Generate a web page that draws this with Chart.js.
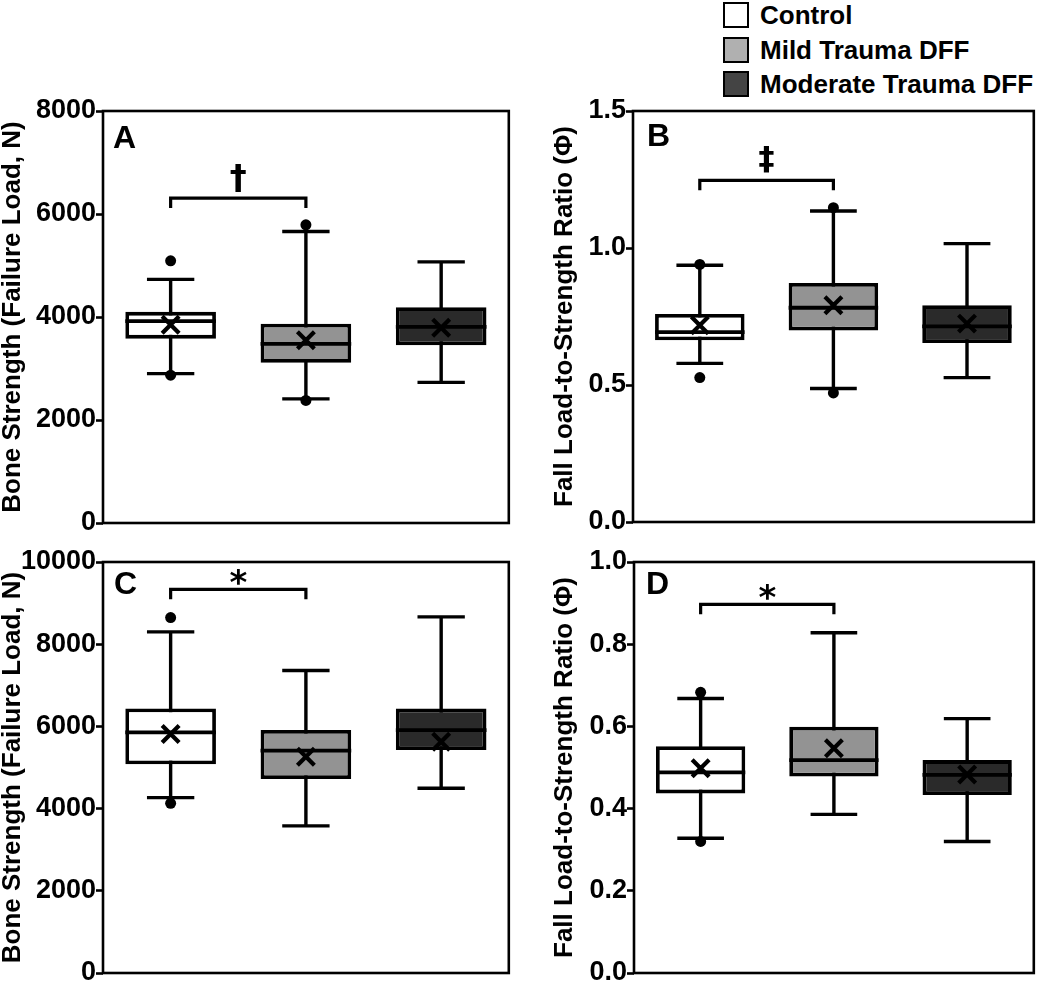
<!DOCTYPE html>
<html>
<head>
<meta charset="utf-8">
<script src="https://cdn.jsdelivr.net/npm/chart.js@4.4.0/dist/chart.umd.min.js"></script>
<style>
  html, body { margin: 0; padding: 0; width: 1050px; height: 983px; overflow: hidden; background: #fff; }
  body { font-family: "Liberation Sans", Arial, sans-serif; color: #000; }
  canvas { position: absolute; }
  #legend { position: absolute; left: 723px; top: 2px; }
  .item { position: relative; height: 34.5px; }
  .sw { position: absolute; left: 0; top: 0; width: 22px; height: 22px; border: 2.5px solid #000; }
  .lbl { position: absolute; left: 37px; top: -2px; font-weight: bold; font-size: 26px; line-height: 31px; white-space: nowrap; }
</style>
</head>
<body>

<div id="legend"></div>
<canvas id="panelA" width="525" height="470" style="left:0;top:90px"></canvas>
<canvas id="panelB" width="530" height="470" style="left:520px;top:90px"></canvas>
<canvas id="panelC" width="525" height="470" style="left:0;top:540px"></canvas>
<canvas id="panelD" width="530" height="470" style="left:520px;top:540px"></canvas>

<script>
// === Data ===
const groups = ['Control', 'Mild Trauma DFF', 'Moderate Trauma DFF'];

// A - bone strength, first set
const aQ1 = [3580, 3110, 3450];
const aQ3 = [4100, 3870, 4190];
const aMedian = [3920, 3480, 3810];
const aMean = [3850, 3550, 3790];
const aLow = [2900, 2410, 2730];
const aHigh = [4730, 5660, 5070];
const aOutliers = [[5090, 2870], [5790, 2380], []];

// B - fall load-to-strength ratio, first set
const bQ1 = [0.663, 0.699, 0.653];
const bQ3 = [0.759, 0.872, 0.791];
const bMedian = [0.693, 0.782, 0.714];
const bMean = [0.718, 0.791, 0.724];
const bLow = [0.579, 0.487, 0.527];
const bHigh = [0.937, 1.135, 1.016];
const bOutliers = [[0.940, 0.527], [1.147, 0.471], []];

// C - bone strength, second set
const cQ1 = [5077, 4721, 5425];
const cQ3 = [6437, 5911, 6437];
const cMedian = [5854, 5409, 5911];
const cMean = [5814, 5263, 5627];
const cLow = [4267, 3579, 4494];
const cHigh = [8300, 7360, 8664];
const cOutliers = [[8648, 4129], [], []];

// D - fall load-to-strength ratio, second set
const dQ1 = [0.437, 0.478, 0.433];
const dQ3 = [0.552, 0.599, 0.518];
const dMedian = [0.488, 0.518, 0.482];
const dMean = [0.498, 0.547, 0.483];
const dLow = [0.328, 0.386, 0.320];
const dHigh = [0.668, 0.828, 0.619];
const dOutliers = [[0.683, 0.320], [], []];

// Axis ticks
const strengthTicksA = [0, 2000, 4000, 6000, 8000];
const ratioTicksB = [0.0, 0.5, 1.0, 1.5];
const strengthTicksC = [0, 2000, 4000, 6000, 8000, 10000];
const ratioTicksD = [0.0, 0.2, 0.4, 0.6, 0.8, 1.0];

// Significance brackets: Control vs Mild
const bracketLevels = [6310, 1.247, 9336, 0.897];
const bracketMarks = ['†', '‡', '*', '*'];

// === Styles ===
const boxFills = ['#ffffff', '#939393', '#2a2a2a'];
const legendFills = ['#ffffff', '#b0b0b0', '#444444'];
const FONT = '"Liberation Sans", Arial, sans-serif';
const MARK_FONT = '"DejaVu Sans", "Liberation Sans", sans-serif';

// === Legend ===
const legendEl = document.getElementById('legend');
groups.forEach((g, i) => {
  const item = document.createElement('div');
  item.className = 'item';
  item.innerHTML = `<div class="sw" style="background:${legendFills[i]}"></div><div class="lbl">${g}</div>`;
  legendEl.appendChild(item);
});

// === Box plot pieces drawn on the library's scales ===
const boxParts = {
  id: 'boxParts',
  beforeDatasetDraw(chart, args, opts) {
    if (args.index !== 0) return;
    const { ctx, scales: { x, y } } = chart;
    const step = x.getPixelForValue(1) - x.getPixelForValue(0);
    const cap = step * 0.35 / 2;
    ctx.save();
    ctx.strokeStyle = '#000';
    ctx.lineWidth = 3.4;
    opts.low.forEach((lo, i) => {
      const cx = x.getPixelForValue(i);
      const yLo = y.getPixelForValue(lo);
      const yHi = y.getPixelForValue(opts.high[i]);
      ctx.beginPath();
      ctx.moveTo(cx, yLo); ctx.lineTo(cx, yHi);
      ctx.moveTo(cx - cap, yLo); ctx.lineTo(cx + cap, yLo);
      ctx.moveTo(cx - cap, yHi); ctx.lineTo(cx + cap, yHi);
      ctx.stroke();
    });
    ctx.restore();
  },
  afterDatasetDraw(chart, args, opts) {
    if (args.index !== 0) return;
    const { ctx, scales: { y } } = chart;
    const bars = chart.getDatasetMeta(0).data;
    ctx.save();
    ctx.strokeStyle = '#000';
    ctx.lineWidth = 3.8;
    opts.median.forEach((m, i) => {
      const b = bars[i];
      const ym = y.getPixelForValue(m);
      ctx.beginPath();
      ctx.moveTo(b.x - b.width / 2, ym);
      ctx.lineTo(b.x + b.width / 2, ym);
      ctx.stroke();
    });
    ctx.restore();
  },
  afterDatasetsDraw(chart, args, opts) {
    const { ctx, scales: { x, y } } = chart;
    const x0 = x.getPixelForValue(0);
    const x1 = x.getPixelForValue(1);
    const yb = y.getPixelForValue(opts.bracket);
    ctx.save();
    ctx.strokeStyle = '#000';
    ctx.lineWidth = 3.2;
    ctx.beginPath();
    ctx.moveTo(x0, yb + 10); ctx.lineTo(x0, yb); ctx.lineTo(x1, yb); ctx.lineTo(x1, yb + 10);
    ctx.stroke();
    ctx.fillStyle = '#000';
    ctx.font = `bold ${opts.markSize}px ${MARK_FONT}`;
    ctx.textAlign = 'center';
    ctx.textBaseline = 'alphabetic';
    const m = ctx.measureText(opts.mark);
    ctx.fillText(opts.mark, (x0 + x1) / 2, yb - opts.markGap - m.actualBoundingBoxDescent);
    ctx.restore();
  },
  afterDraw(chart, args, opts) {
    const { ctx, chartArea: a } = chart;
    ctx.save();
    ctx.strokeStyle = '#000';
    ctx.lineWidth = 2.6;
    ctx.strokeRect(a.left, a.top, a.right - a.left, a.bottom - a.top);
    ctx.fillStyle = '#000';
    ctx.font = `bold 32px ${FONT}`;
    ctx.textBaseline = 'alphabetic';
    ctx.fillText(opts.letter, a.left + opts.letterPos[0], a.top + opts.letterPos[1]);
    ctx.restore();
  }
};

function makePanel(id, d) {
  const outlierPoints = [];
  d.outliers.forEach((list, i) => list.forEach(v => outlierPoints.push({ x: groups[i], y: v })));

  return new Chart(document.getElementById(id), {
    type: 'bar',
    data: {
      labels: groups,
      datasets: [
        {
          label: 'box',
          data: d.q1.map((v, i) => [v, d.q3[i]]),
          backgroundColor: boxFills,
          borderColor: '#000',
          borderWidth: 3.8,
          borderSkipped: false,
          barPercentage: 0.67,
          categoryPercentage: 1,
          order: 3
        },
        {
          type: 'line',
          label: 'mean',
          data: d.mean,
          showLine: false,
          pointStyle: 'crossRot',
          pointRadius: 12,
          pointBorderWidth: 4.2,
          pointBorderColor: '#000',
          order: 1
        },
        {
          type: 'line',
          label: 'outliers',
          data: outlierPoints,
          showLine: false,
          pointStyle: 'circle',
          pointRadius: 5.5,
          pointBorderWidth: 0,
          pointBackgroundColor: '#000',
          order: 2
        }
      ]
    },
    options: {
      responsive: false,
      animation: false,
      events: [],
      layout: { padding: d.padding },
      scales: {
        x: { type: 'category', display: false, offset: true },
        y: {
          min: d.ticks[0],
          max: d.ticks[d.ticks.length - 1],
          afterBuildTicks: s => { s.ticks = d.ticks.map(v => ({ value: v })); },
          afterFit: s => { s.width = d.axisWidth; },
          ticks: {
            color: '#000',
            padding: 0,
            font: { family: FONT, size: 27, weight: 'bold', lineHeight: 1 },
            callback: v => v.toFixed(d.decimals)
          },
          grid: { drawOnChartArea: false, drawTicks: true, tickLength: 7, tickWidth: 2.6, color: '#000' },
          border: { display: false },
          title: {
            display: true,
            text: d.title,
            color: '#000',
            font: { family: FONT, size: 26, weight: 'bold', lineHeight: 1 },
            padding: { top: d.titleOffset, bottom: 0 }
          }
        }
      },
      plugins: {
        legend: { display: false },
        tooltip: { enabled: false },
        boxParts: {
          low: d.low, high: d.high, median: d.median,
          bracket: d.bracket, mark: d.mark, markSize: d.markSize, markGap: d.markGap,
          letter: d.letter, letterPos: d.letterPos
        }
      }
    },
    plugins: [boxParts]
  });
}

const strengthTitle = 'Bone Strength (Failure Load, N)';
const ratioTitle = 'Fall Load-to-Strength Ratio (Φ)';

makePanel('panelA', {
  q1: aQ1, q3: aQ3, median: aMedian, mean: aMean, low: aLow, high: aHigh, outliers: aOutliers,
  ticks: strengthTicksA, decimals: 0, title: strengthTitle, titleOffset: 0, axisWidth: 103,
  padding: { left: 0, top: 21, right: 9, bottom: 37 },
  bracket: bracketLevels[0], mark: bracketMarks[0], markSize: 34, markGap: 6,
  letter: 'A', letterPos: [10, 37]
});

makePanel('panelB', {
  q1: bQ1, q3: bQ3, median: bMedian, mean: bMean, low: bLow, high: bHigh, outliers: bOutliers,
  ticks: ratioTicksB, decimals: 1, title: ratioTitle, titleOffset: 32, axisWidth: 113,
  padding: { left: 0, top: 21, right: 10, bottom: 38 },
  bracket: bracketLevels[1], mark: bracketMarks[1], markSize: 32, markGap: 7,
  letter: 'B', letterPos: [14, 35]
});

makePanel('panelC', {
  q1: cQ1, q3: cQ3, median: cMedian, mean: cMean, low: cLow, high: cHigh, outliers: cOutliers,
  ticks: strengthTicksC, decimals: 0, title: strengthTitle, titleOffset: 0, axisWidth: 103,
  padding: { left: 0, top: 22, right: 9, bottom: 37 },
  bracket: bracketLevels[2], mark: bracketMarks[2], markSize: 34, markGap: 4,
  letter: 'C', letterPos: [11, 32]
});

makePanel('panelD', {
  q1: dQ1, q3: dQ3, median: dMedian, mean: dMean, low: dLow, high: dHigh, outliers: dOutliers,
  ticks: ratioTicksD, decimals: 1, title: ratioTitle, titleOffset: 32, axisWidth: 114,
  padding: { left: 0, top: 22, right: 10, bottom: 37 },
  bracket: bracketLevels[3], mark: bracketMarks[3], markSize: 34, markGap: 4,
  letter: 'D', letterPos: [12, 32]
});
</script>
</body>
</html>
